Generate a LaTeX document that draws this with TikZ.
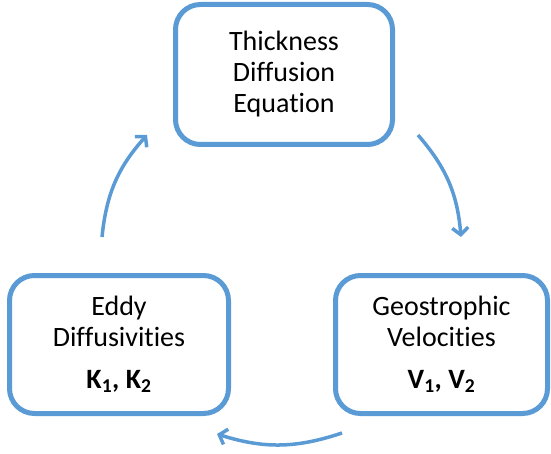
\documentclass[tikz,border=0pt]{standalone}
\usepackage{fontspec}
\setmainfont{Carlito}[Ligatures={NoCommon}]
\usetikzlibrary{arrows.meta}

\definecolor{boxblue}{RGB}{91,155,213}

\begin{document}
\begin{tikzpicture}[x=1pt, y=1pt,
    stage/.style={draw=boxblue, line width=5pt, rounded corners=25pt, fill=white,
        align=center, font=\fontsize{28}{31}\selectfont, inner sep=0pt},
    cycle/.style={boxblue, line width=3.5pt, bend left=18,
        -{Straight Barb[length=7pt, width=16pt]}}]
    % Fix the frame
    \useasboundingbox (0,0) rectangle (551,-454);

    % Draw the three boxes
    \node[stage, minimum width=217pt, minimum height=140pt] (thick) at (284,-74.5)
        {Thickness\\Diffusion\\Equation};
    \node[stage, minimum width=219pt, minimum height=138pt] (eddy) at (119,-344.5)
        {Eddy\\Diffusivities\\[11pt]\textbf{K\textsubscript{1}, K\textsubscript{2}}};
    \node[stage, minimum width=212pt, minimum height=138pt] (geo) at (441.5,-344.5)
        {Geostrophic\\Velocities\\[11pt]\textbf{V\textsubscript{1}, V\textsubscript{2}}};

    % Arrow end points
    \coordinate (tgA) at (418,-135);
    \coordinate (tgB) at (461,-237);
    \coordinate (geA) at (342,-433);
    \coordinate (geB) at (217,-434);
    \coordinate (etA) at (102,-237);
    \coordinate (etB) at (147,-135);

    % Draw the cycle arrows
    \draw[cycle] (tgA) to (tgB);
    \draw[cycle] (geA) to (geB);
    \draw[cycle] (etA) to (etB);
\end{tikzpicture}
\end{document}
